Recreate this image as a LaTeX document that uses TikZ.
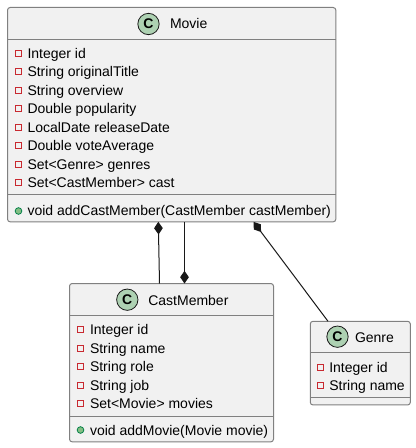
\documentclass[tikz,border=0pt]{standalone}
\usepackage{fontspec}
\setmainfont{Liberation Sans}
\usetikzlibrary{arrows.meta}
\definecolor{boxfill}{HTML}{F1F1F1}
\definecolor{boxline}{HTML}{808080}
\definecolor{spotfill}{HTML}{ADD1B2}
\definecolor{privline}{HTML}{C82930}
\definecolor{pubfill}{HTML}{84BE84}
\definecolor{publine}{HTML}{038048}
\definecolor{relline}{HTML}{181818}
\tikzset{
	classbox/.style = {draw = boxline, fill = boxfill, line width = 0.75pt, rounded corners = 2pt, inner sep = 0pt, outer sep = 0pt, anchor = north west},
	spot/.style = {circle, draw = relline, fill = spotfill, line width = 0.6pt, minimum size = 16pt, inner sep = 0pt, font = \bfseries\fontsize{10.5}{12}\selectfont},
	title/.style = {anchor = base west, inner sep = 0pt, outer sep = 0pt, font = \fontsize{10.5}{12}\selectfont},
	member/.style = {anchor = base west, inner sep = 0pt, outer sep = 0pt, font = \fontsize{10.5}{12}\selectfont},
	priv/.style = {draw = privline, fill = boxfill, line width = 0.75pt, minimum size = 4.5pt, inner sep = 0pt},
	pub/.style = {circle, draw = publine, fill = pubfill, line width = 0.6pt, minimum size = 5pt, inner sep = 0pt},
	composed/.style = {draw = relline, line width = 0.75pt, {Diamond[length = 9.5pt, width = 6.5pt, fill = relline]}-},
	owned/.style = {draw = relline, line width = 0.75pt, -{Diamond[length = 9.5pt, width = 6.5pt, fill = relline]}}
}
\begin{document}
\begin{tikzpicture}[x = 0.75pt, y = -0.75pt]
	\useasboundingbox (0,0) rectangle (416,448);
	% Movie
	\node[classbox, minimum width = 246.25pt, minimum height = 160.75pt] (movie) at (7.5,7.5) {};
	\draw[boxline, line width = 0.75pt] (movie.west |- 0,39.5) -- (movie.east |- 0,39.5);          % header line
	\draw[boxline, line width = 0.75pt] (movie.west |- 0,194.5) -- (movie.east |- 0,194.5);        % method line
	\node[spot] (moviespot) at (148.5,24) {C};
	\node[title] (movietitle) at (170,29) {Movie};
	\foreach \n/\y/\t in {1/53.5/Integer id, 2/72/String originalTitle, 3/90.5/String overview, 4/109/Double popularity, 5/127.5/LocalDate releaseDate, 6/146/Double voteAverage, 7/164.5/Set<Genre> genres, 8/183/Set<CastMember> cast}
	{
		\node[priv] (movieicon\n) at (18.5,\y) {};
		\node[member] (movieattr\n) at (27.5,\y+5) {\t};
	}
	\node[pub] (moviepub) at (18.5,211) {};
	\node[member] (moviemethod) at (27.5,216) {void addCastMember(CastMember castMember)};
	% CastMember
	\node[classbox, minimum width = 153pt, minimum height = 118.75pt] (cast) at (69.5,283.5) {};
	\draw[boxline, line width = 0.75pt] (cast.west |- 0,315.5) -- (cast.east |- 0,315.5);          % header line
	\draw[boxline, line width = 0.75pt] (cast.west |- 0,416.5) -- (cast.east |- 0,416.5);          % method line
	\node[spot] (castspot) at (127.3,299.7) {C};
	\node[title] (casttitle) at (148.3,305) {CastMember};
	\foreach \n/\y/\t in {1/329.5/Integer id, 2/348/String name, 3/366.5/String role, 4/385/String job, 5/403.5/Set<Movie> movies}
	{
		\node[priv] (casticon\n) at (80.5,\y) {};
		\node[member] (castattr\n) at (90,\y+5) {\t};
	}
	\node[pub] (castpub) at (80.5,430) {};
	\node[member] (castmethod) at (90,435) {void addMovie(Movie movie)};
	% Genre
	\node[classbox, minimum width = 75pt, minimum height = 62.75pt] (genre) at (310.3,321.3) {};
	\draw[boxline, line width = 0.75pt] (genre.west |- 0,352.5) -- (genre.east |- 0,352.5);        % header line
	\draw[boxline, line width = 0.75pt] (genre.west |- 0,397.5) -- (genre.east |- 0,397.5);        % method line
	\node[spot] (genrespot) at (337.5,336.7) {C};
	\node[title] (genretitle) at (355,342) {Genre};
	\foreach \n/\y/\t in {1/367/Integer id, 2/385/String name}
	{
		\node[priv] (genreicon\n) at (320.7,\y) {};
		\node[member] (genreattr\n) at (329.3,\y+5) {\t};
	}
	% Relations
	\draw[composed] (movie.south -| 158.3,0) -- (cast.north -| 159.5,0);
	\draw[owned] (movie.south -| 184.5,0) -- (cast.north -| 184.5,0);
	\draw[composed] (movie.south -| 253.5,0) -- (genre.north -| 328,0);
\end{tikzpicture}
\end{document}
